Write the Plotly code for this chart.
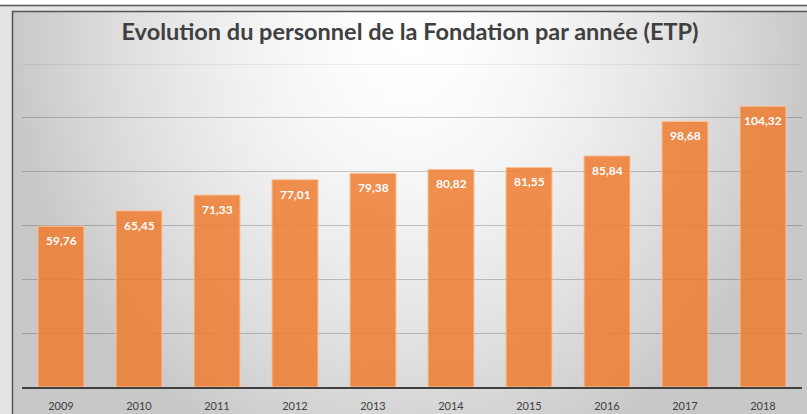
import base64, struct, zlib
import plotly.graph_objects as go

years = ["2009", "2010", "2011", "2012", "2013", "2014", "2015", "2016", "2017", "2018"]
etp = [59.76, 65.45, 71.33, 77.01, 79.38, 80.82, 81.55, 85.84, 98.68, 104.32]
title_text = "Evolution du personnel de la Fondation par année (ETP)"

W, H = 807, 414
L, R, T, B = 22, 5, 64, 27
PW, PH = W - L - R, H - T - B
YMAX = 120


def px(x):
    return (x - L) / PW


def py(y):
    return (H - B - y) / PH


def png_gray(w, h, rows):
    raw = b"".join(b"\x00" + bytes(r) for r in rows)

    def chunk(tag, data):
        c = struct.pack(">I", len(data)) + tag + data
        return c + struct.pack(">I", zlib.crc32(tag + data) & 0xFFFFFFFF)

    return (b"\x89PNG\r\n\x1a\n" + chunk(b"IHDR", struct.pack(">IIBBBBB", w, h, 8, 0, 0, 0, 0))
            + chunk(b"IDAT", zlib.compress(raw, 9)) + chunk(b"IEND", b""))


# radial background gradient (white near top centre, grey at edges)
gw, gh = 160, 80
x0, y0, x1, y1 = 12, 11, 807, 414
rows = []
for j in range(gh):
    row = []
    yy = y0 + (j + 0.5) / gh * (y1 - y0)
    for i in range(gw):
        xx = x0 + (i + 0.5) / gw * (x1 - x0)
        d = (((xx - 410) / 400) ** 2 + ((yy - 40) / 450) ** 2) ** 0.5
        v = 255 - 55 * min(d, 1.0) ** 1.6
        row.append(int(round(v)))
    rows.append(row)
bg_uri = "data:image/png;base64," + base64.b64encode(png_gray(gw, gh, rows)).decode()

fig = go.Figure()
fig.add_trace(go.Bar(
    x=years, y=etp,
    marker=dict(color="rgba(237,125,49,0.86)", line=dict(color="rgba(250,195,155,1)", width=1)),
    hoverinfo="skip",
))

# value labels: x given as category index (numeric-looking category names would be read as numbers)
for idx, v in enumerate(etp):
    fig.add_annotation(x=idx, y=v, xref="x", yref="y", yanchor="top", yshift=-5,
                       text=f"{v:.2f}".replace(".", ","), showarrow=False,
                       font=dict(family="Lato", size=12, color="white", weight="bold"))

shapes = [
    dict(type="line", xref="paper", yref="y", x0=0, x1=1, y0=YMAX, y1=YMAX,
         line=dict(color="rgba(0,0,0,0.13)", width=1), layer="below"),
    dict(type="rect", xref="paper", yref="paper", x0=px(-5), x1=px(W + 5), y0=py(5), y1=py(-5),
         fillcolor="white", line_width=0, layer="above"),
    dict(type="line", xref="paper", yref="paper", x0=px(0), x1=px(W + 5), y0=py(5.5), y1=py(5.5),
         line=dict(color="#555555", width=1.5), layer="above"),
    dict(type="line", xref="paper", yref="paper", x0=px(12), x1=px(W + 5), y0=py(11.5), y1=py(11.5),
         line=dict(color="#555555", width=1.5), layer="above"),
    dict(type="line", xref="paper", yref="paper", x0=px(12.5), x1=px(12.5), y0=py(11), y1=py(H + 5),
         line=dict(color="#555555", width=1.5), layer="above"),
]

fig.update_layout(
    width=W, height=H,
    margin=dict(l=L, r=R, t=T, b=B, pad=0, autoexpand=False),
    paper_bgcolor="#e4e4e4", plot_bgcolor="rgba(0,0,0,0)",
    bargap=0.41,
    showlegend=False,
    title=dict(text=title_text, x=px(410), xref="paper", xanchor="center",
               y=1 - 32 / H, yref="container", yanchor="middle",
               font=dict(family="Lato", size=23.5, color="#404040", weight="bold")),
    images=[dict(source=bg_uri, xref="paper", yref="paper", x=px(x0), y=py(y0),
                 sizex=(x1 - x0) / PW, sizey=(y1 - y0) / PH, sizing="stretch",
                 xanchor="left", yanchor="top", layer="below")],
    shapes=shapes,
    xaxis=dict(type="category", range=[-0.5, len(years) - 0.5], showgrid=False, showline=True,
               linecolor="#404040", linewidth=2, automargin=False,
               ticks="", tickfont=dict(family="Lato", size=11, color="#404040"),
               ticklabelstandoff=8),
    yaxis=dict(range=[0, YMAX], dtick=20, showgrid=True, gridcolor="rgba(0,0,0,0.2)", gridwidth=1,
               automargin=False,
               showticklabels=False, zeroline=False, showline=False, ticks=""),
)

fig.write_html("out.html", config={"displayModeBar": False},
               post_script="document.body.style.margin='0';document.body.style.overflow='hidden';")
